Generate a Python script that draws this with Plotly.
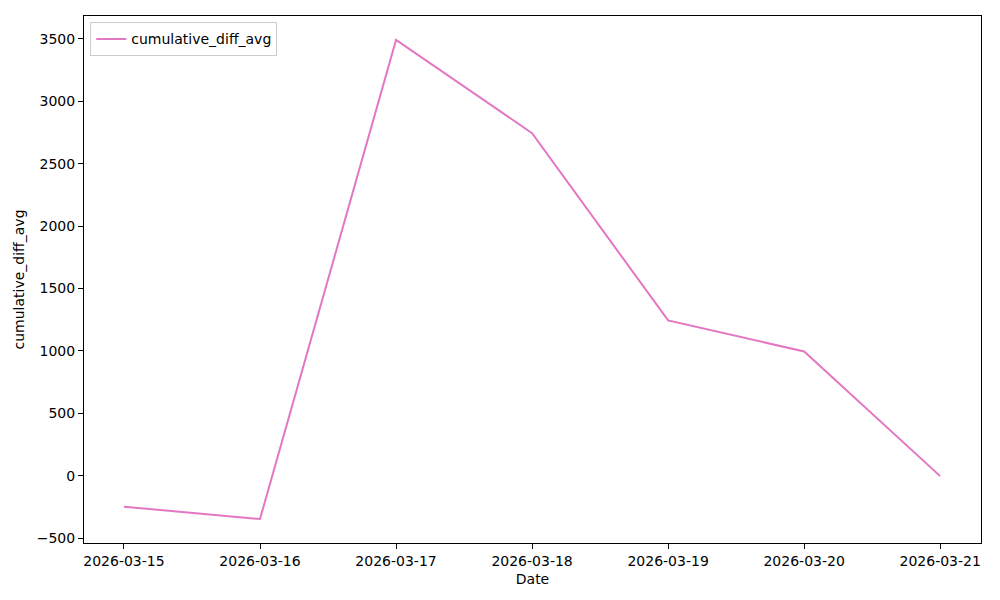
import plotly.graph_objects as go

dates = ["2026-03-15", "2026-03-16", "2026-03-17", "2026-03-18", "2026-03-19", "2026-03-20", "2026-03-21"]
values = [-249, -348, 3492, 2745, 1244, 995, -4]
series_name = "cumulative_diff_avg"
yticks = [-500, 0, 500, 1000, 1500, 2000, 2500, 3000, 3500]

fig = go.Figure()
fig.add_trace(go.Scatter(x=dates, y=values, mode="lines", name=series_name,
                         line=dict(color="#e377c2", width=2)))

axis_common = dict(showgrid=False, zeroline=False, showline=True, linecolor="black",
                   linewidth=1, mirror=True, ticks="outside", ticklen=5, tickcolor="black",
                   tickfont=dict(size=14, color="black"))

fig.update_layout(
    width=1000, height=600,
    margin=dict(l=76, r=27, t=8, b=65),
    paper_bgcolor="white", plot_bgcolor="white",
    font=dict(family="DejaVu Sans", size=14, color="black"),
    showlegend=True,
    legend=dict(x=0.007, y=0.988, xanchor="left", yanchor="top",
                bgcolor="rgba(255,255,255,0.8)", bordercolor="#cccccc", borderwidth=1,
                font=dict(size=14)),
    xaxis=dict(axis_common, type="date", range=["2026-03-14 16:57", "2026-03-21 07:12"],
               tickvals=dates, ticktext=dates,
               title=dict(text="Date", font=dict(size=14), standoff=6)),
    yaxis=dict(axis_common, range=[-540, 3684], tickvals=yticks,
               title=dict(text=series_name, font=dict(size=14), standoff=8)),
)

fig.write_html("out.html")
